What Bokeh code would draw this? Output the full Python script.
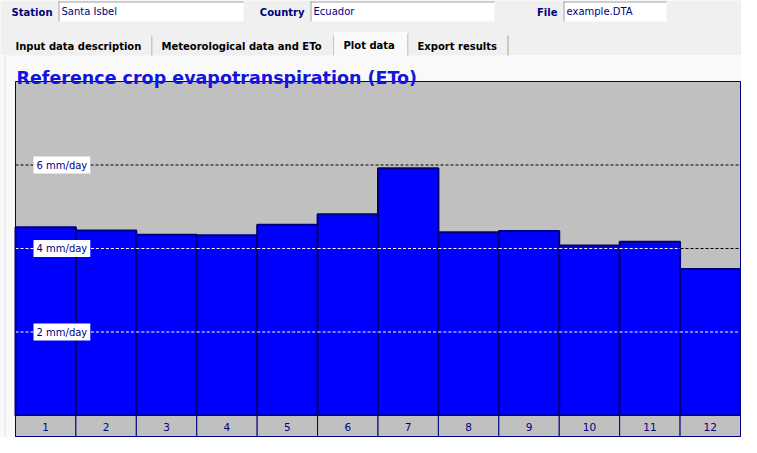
from bokeh.plotting import figure
from bokeh.models import Range1d
from bokeh.core.properties import value
from bokeh.embed import file_html
from bokeh.resources import INLINE

# ---------------- data ----------------
months = list(range(1, 13))
month_labels = [str(m) for m in months]
eto = [4.51, 4.43, 4.33, 4.32, 4.57, 4.82, 5.92, 4.39, 4.42, 4.07, 4.16, 3.51]
grid_values = [2, 4, 6]
grid_labels = ["2 mm/day", "4 mm/day", "6 mm/day"]
y_max = 8

title_text = "Reference crop evapotranspiration (ETo)"
field_names = ["Station", "Country", "File"]
field_values = ["Santa Isbel", "Ecuador", "example.DTA"]
tab_names = ["Input data description", "Meteorological data and ETo", "Plot data", "Export results"]
selected_tab = 2

# ---------------- styles / layout ----------------
BG = "#f0f0f0"
PANEL = "#f9f9f9"
NAVY = "#000080"
BAR_EDGE = "#000078"
BLUE = "#0000ff"
GRAY = "#c0c0c0"
TITLE_BLUE = "#1414e0"
BOLD = "DejaVu Sans"
REG = "DejaVu Sans"

W, H = 741, 437
FL, FR = 15, 740     # chart left/right (canvas px)
FT = 81              # chart top (y_max)
FB = 436             # bottom of category band
Z = FB - 21          # zero line
ppu_x = (FR - FL) / len(months)
ppu_y = (Z - FT) / y_max
x_start = 0.5 - FL / ppu_x
x_end = 0.5 + (W - FL) / ppu_x
y_end = Z / ppu_y
y_start = -(H - Z) / ppu_y
band_bottom = -(FB - Z) / ppu_y

p = figure(width=W, height=H, x_range=Range1d(x_start, x_end), y_range=Range1d(y_start, y_end),
           output_backend="svg", toolbar_location=None, tools="", min_border=0,
           x_axis_location=None, y_axis_location=None,
           background_fill_color=BG, border_fill_color=BG, outline_line_color=None)
p.xgrid.visible = False
p.ygrid.visible = False
p.extra_x_ranges = {"px": Range1d(0, W)}
p.extra_y_ranges = {"px": Range1d(H, 0)}
PX = dict(x_range_name="px", y_range_name="px")

# ---------------- window chrome (pixel coordinates) ----------------
TAB_TOP, TAB_BOT, SEL_TOP = 34, 55, 32
p.quad(left=[0], right=[W], top=[TAB_BOT], bottom=[H], fill_color=PANEL, line_color=None, **PX)
p.segment(x0=[0], y0=[TAB_BOT + 0.5], x1=[W], y1=[TAB_BOT + 0.5], line_color="#ffffff", **PX)
p.segment(x0=[4.5], y0=[TAB_BOT], x1=[4.5], y1=[H], line_color="#e3e3e3", **PX)

# header fields
box_lefts = [58, 310, 563]
box_rights = [243, 494, 666]
BOX_T, BOX_B = 1, 21
p.quad(left=box_lefts, right=box_rights, top=[BOX_T] * 3, bottom=[BOX_B] * 3,
       fill_color="#ffffff", line_color=None, **PX)
p.segment(x0=box_lefts, y0=[BOX_T + 0.5] * 3, x1=box_rights, y1=[BOX_T + 0.5] * 3,
          line_color="#a0a0a0", **PX)
p.segment(x0=[b + 0.5 for b in box_lefts], y0=[BOX_T] * 3, x1=[b + 0.5 for b in box_lefts],
          y1=[BOX_B] * 3, line_color="#a0a0a0", **PX)
p.text(x=[b - 6 for b in box_lefts], y=[(BOX_T + BOX_B) / 2 + 1] * 3, text=field_names,
       text_align="right", text_baseline="middle", text_font=value(BOLD), text_font_style="bold",
       text_font_size="10px", text_color=NAVY, **PX)
p.text(x=[b + 3 for b in box_lefts], y=[(BOX_T + BOX_B) / 2] * 3, text=field_values,
       text_align="left", text_baseline="middle", text_font=value(REG), text_font_size="10px",
       text_color=NAVY, **PX)

# tabs
tab_edges = [6, 152, 334, 408, 508]
for i, name in enumerate(tab_names):
    l, r = tab_edges[i], tab_edges[i + 1]
    sel = i == selected_tab
    top = SEL_TOP if sel else TAB_TOP
    bot = TAB_BOT + 1 if sel else TAB_BOT
    p.quad(left=[l], right=[r], top=[top], bottom=[bot], fill_color=PANEL if sel else BG,
           line_color=None, **PX)
    p.segment(x0=[r - 0.5], y0=[top + 1], x1=[r - 0.5], y1=[TAB_BOT], line_color="#a0a0a0", **PX)
    if sel:
        p.segment(x0=[l + 0.5, l], y0=[TAB_BOT, top + 0.5], x1=[l + 0.5, r - 1], y1=[top, top + 0.5],
                  line_color="#ffffff", **PX)
    p.text(x=[l + 9], y=[(top + TAB_BOT) / 2 + 1], text=[name], text_align="left",
           text_baseline="middle", text_font=value(BOLD), text_font_style="bold",
           text_font_size="10px", text_color="#000000", **PX)

# ---------------- chart (data coordinates) ----------------
n = len(months)
p.quad(left=[0.5], right=[n + 0.5], bottom=[band_bottom], top=[y_max],
       fill_color=GRAY, line_color=None)

# dashed grid on gray
p.segment(x0=[0.5] * len(grid_values), y0=grid_values, x1=[n + 0.5] * len(grid_values),
          y1=grid_values, line_color="#000000", line_width=1, line_dash="3 2")

# bars
p.vbar(x=months, top=eto, bottom=0, width=1, fill_color=BLUE, line_color=BAR_EDGE, line_width=2)

# dashed grid on bars (inverted to white)
wx0, wx1, wy = [], [], []
for m, v in zip(months, eto):
    for g in grid_values:
        if v > g:
            wx0.append(m - 0.5)
            wx1.append(m + 0.5)
            wy.append(g)
p.segment(x0=wx0, y0=wy, x1=wx1, y1=wy, line_color="#ffffff", line_width=1, line_dash="3 2")

# category band
p.quad(left=[m - 0.5 for m in months], right=[m + 0.5 for m in months],
       bottom=[band_bottom] * n, top=[0] * n, fill_color=GRAY, line_color=NAVY, line_width=1)
p.text(x=months, y=[band_bottom / 2] * n, y_offset=1, text=month_labels, text_align="center",
       text_baseline="middle", text_font=value(REG), text_font_size="10.5px", text_color=NAVY)

# value labels
p.text(x=[0.5] * len(grid_values), y=grid_values, text=grid_labels, x_offset=18,
       text_align="left", text_baseline="middle", text_font=value(REG), text_font_size="10px",
       text_color=NAVY, background_fill_color="#ffffff", padding=3)

# chart outline
p.quad(left=[0.5], right=[n + 0.5], bottom=[band_bottom], top=[y_max],
       fill_color=None, line_color=NAVY, line_width=1)

# title (drawn last so descenders stay visible)
p.text(x=[16], y=[77], text=[title_text], text_align="left", text_baseline="alphabetic",
       text_font=value(BOLD), text_font_style="bold", text_font_size="17.5px",
       text_color=TITLE_BLUE, **PX)

open("out.html", "w").write(file_html(p, INLINE))
